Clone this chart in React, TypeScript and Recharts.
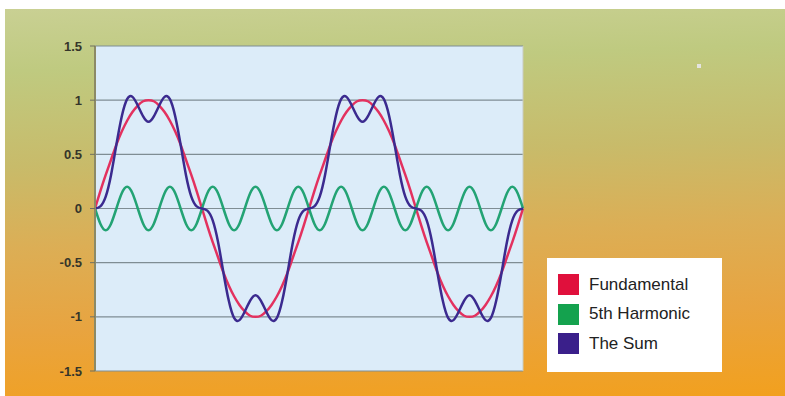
import { LineChart, Line, XAxis, YAxis, CartesianGrid, ReferenceLine } from 'recharts';

// sample index across two periods of the fundamental (40 samples per period)
const steps = [
  0, 1, 2, 3, 4, 5, 6, 7, 8, 9, 10, 11, 12, 13, 14, 15, 16, 17, 18, 19,
  20, 21, 22, 23, 24, 25, 26, 27, 28, 29, 30, 31, 32, 33, 34, 35, 36, 37, 38, 39,
  40, 41, 42, 43, 44, 45, 46, 47, 48, 49, 50, 51, 52, 53, 54, 55, 56, 57, 58, 59,
  60, 61, 62, 63, 64, 65, 66, 67, 68, 69, 70, 71, 72, 73, 74, 75, 76, 77, 78, 79, 80,
];

const fundamental = [
  0, 0.16, 0.31, 0.45, 0.59, 0.71, 0.81, 0.89, 0.95, 0.99, 1, 0.99, 0.95, 0.89, 0.81, 0.71, 0.59, 0.45, 0.31, 0.16,
  0, -0.16, -0.31, -0.45, -0.59, -0.71, -0.81, -0.89, -0.95, -0.99, -1, -0.99, -0.95, -0.89, -0.81, -0.71, -0.59, -0.45, -0.31, -0.16,
  0, 0.16, 0.31, 0.45, 0.59, 0.71, 0.81, 0.89, 0.95, 0.99, 1, 0.99, 0.95, 0.89, 0.81, 0.71, 0.59, 0.45, 0.31, 0.16,
  0, -0.16, -0.31, -0.45, -0.59, -0.71, -0.81, -0.89, -0.95, -0.99, -1, -0.99, -0.95, -0.89, -0.81, -0.71, -0.59, -0.45, -0.31, -0.16, 0,
];

const harmonic = [
  0, -0.14, -0.2, -0.14, 0, 0.14, 0.2, 0.14, 0, -0.14, -0.2, -0.14, 0, 0.14, 0.2, 0.14, 0, -0.14, -0.2, -0.14,
  0, 0.14, 0.2, 0.14, 0, -0.14, -0.2, -0.14, 0, 0.14, 0.2, 0.14, 0, -0.14, -0.2, -0.14, 0, 0.14, 0.2, 0.14,
  0, -0.14, -0.2, -0.14, 0, 0.14, 0.2, 0.14, 0, -0.14, -0.2, -0.14, 0, 0.14, 0.2, 0.14, 0, -0.14, -0.2, -0.14,
  0, 0.14, 0.2, 0.14, 0, -0.14, -0.2, -0.14, 0, 0.14, 0.2, 0.14, 0, -0.14, -0.2, -0.14, 0, 0.14, 0.2, 0.14, 0,
];

const sum = [
  0, 0.02, 0.11, 0.31, 0.59, 0.85, 1.01, 1.03, 0.95, 0.85, 0.8, 0.85, 0.95, 1.03, 1.01, 0.85, 0.59, 0.31, 0.11, 0.02,
  0, -0.02, -0.11, -0.31, -0.59, -0.85, -1.01, -1.03, -0.95, -0.85, -0.8, -0.85, -0.95, -1.03, -1.01, -0.85, -0.59, -0.31, -0.11, -0.02,
  0, 0.02, 0.11, 0.31, 0.59, 0.85, 1.01, 1.03, 0.95, 0.85, 0.8, 0.85, 0.95, 1.03, 1.01, 0.85, 0.59, 0.31, 0.11, 0.02,
  0, -0.02, -0.11, -0.31, -0.59, -0.85, -1.01, -1.03, -0.95, -0.85, -0.8, -0.85, -0.95, -1.03, -1.01, -0.85, -0.59, -0.31, -0.11, -0.02, 0,
];

const yTicks = [-1.5, -1, -0.5, 0, 0.5, 1, 1.5];

const seriesInfo = [
  { key: 'fundamental', name: 'Fundamental', color: '#e3315f', swatch: '#e0103c' },
  { key: 'harmonic', name: '5th Harmonic', color: '#23a374', swatch: '#14a24e' },
  { key: 'sum', name: 'The Sum', color: '#3b2a8f', swatch: '#3a1f8a' },
];

const chartData = steps.map((s, i) => ({
  x: s,
  fundamental: fundamental[i],
  harmonic: harmonic[i],
  sum: sum[i],
}));

function LegendBox() {
  return (
    <div
      style={{
        position: 'absolute',
        left: 547,
        top: 258,
        background: '#fff',
        width: 175,
        height: 114,
        boxSizing: 'border-box',
        paddingTop: 12,
        paddingLeft: 11,
        fontFamily: 'Liberation Sans, Arial, sans-serif',
        fontSize: 17,
        color: '#222',
      }}
    >
      {seriesInfo.map(s => (
        <div key={s.key} style={{ display: 'flex', alignItems: 'center', height: 29.5 }}>
          <span style={{ width: 21, height: 21, background: s.swatch, marginRight: 10, display: 'inline-block' }} />
          <span>{s.name}</span>
        </div>
      ))}
    </div>
  );
}

export default function App() {
  return (
    <div style={{ position: 'absolute', left: 0, top: 0, width: 785, height: 396, background: '#fff' }}>
      <div
        style={{
          position: 'absolute',
          left: 5,
          top: 9,
          width: 780,
          height: 387,
          background:
            'linear-gradient(178deg, #c9d093 0%, #bfca80 15%, #c8bb6a 38%, #dcae55 58%, #e8a440 78%, #f2a01e 100%)',
        }}
      />
      <div style={{ position: 'absolute', left: 0, top: 0 }}>
        <LineChart width={785} height={396} data={chartData} margin={{ top: 46, right: 262, bottom: 25, left: 0 }}>
          <CartesianGrid vertical={false} stroke="#7f8d94" fill="#dcecf9" strokeWidth={1.2} />
          <XAxis dataKey="x" type="number" domain={[0, 80]} hide />
          <YAxis
            domain={[-1.5, 1.5]}
            ticks={yTicks}
            width={95}
            tickSize={5}
            tickMargin={8}
            axisLine={{ stroke: '#8c8a66', strokeWidth: 2 }}
            tickLine={{ stroke: '#6f7060' }}
            tick={{ fill: '#35352a', fontSize: 13, fontWeight: 600, fontFamily: 'Liberation Sans, Arial, sans-serif' }}
          />
          <ReferenceLine x={80} stroke="#c9ccc0" />
          {seriesInfo.map(s => (
            <Line
              key={s.key}
              type="natural"
              dataKey={s.key}
              name={s.name}
              stroke={s.color}
              strokeWidth={2.5}
              dot={false}
              isAnimationActive={false}
            />
          ))}
        </LineChart>
      </div>
      <LegendBox />
      <div style={{ position: 'absolute', left: 697, top: 64, width: 4, height: 4, background: '#e4e4e0' }} />
    </div>
  );
}
